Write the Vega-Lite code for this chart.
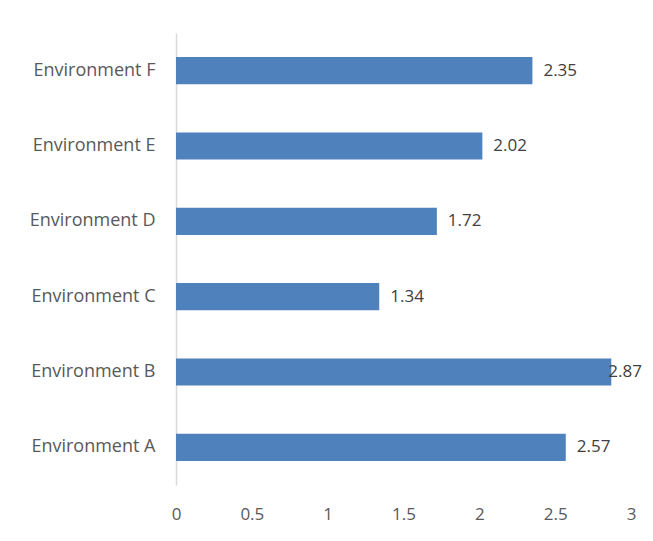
{
  "$schema": "https://vega.github.io/schema/vega-lite/v6.json",
  "autosize": {"type": "none"},
  "width": 455,
  "height": 452,
  "padding": {"left": 176, "top": 33, "right": 22, "bottom": 56},
  "background": "white",
  "config": {
    "view": {"stroke": null},
    "font": "Open Sans",
    "axis": {"labelColor": "#595959", "labelFont": "Open Sans", "labelFontSize": 17, "grid": false, "ticks": false, "title": null}
  },
  "data": {
    "values": [
      {"environment": "Environment A", "value": 2.57},
      {"environment": "Environment B", "value": 2.87},
      {"environment": "Environment C", "value": 1.34},
      {"environment": "Environment D", "value": 1.72},
      {"environment": "Environment E", "value": 2.02},
      {"environment": "Environment F", "value": 2.35}
    ]
  },
  "encoding": {
    "y": {
      "field": "environment",
      "type": "nominal",
      "sort": "descending",
      "scale": {"paddingInner": 0.64, "paddingOuter": 0.32},
      "axis": {"domainColor": "#d9d9d9", "domainWidth": 1.5, "labelPadding": 21, "labelFontSize": 18}
    },
    "x": {
      "field": "value",
      "type": "quantitative",
      "scale": {"domain": [0, 3], "nice": false},
      "axis": {"values": [0, 0.5, 1, 1.5, 2, 2.5, 3], "format": "~g", "domain": false, "labelPadding": 21, "labelFlush": false}
    }
  },
  "layer": [
    {"mark": {"type": "bar", "color": "#4f81bd"}},
    {
      "transform": [{"filter": "datum.value < 2.8"}],
      "mark": {"type": "text", "align": "left", "dx": 11, "fontSize": 17, "color": "#404040"},
      "encoding": {"text": {"field": "value", "type": "quantitative", "format": ".2f"}}
    },
    {
      "transform": [{"filter": "datum.value >= 2.8"}],
      "mark": {"type": "text", "align": "left", "dx": -3, "fontSize": 17, "color": "#404040"},
      "encoding": {"text": {"field": "value", "type": "quantitative", "format": ".2f"}}
    }
  ]
}
